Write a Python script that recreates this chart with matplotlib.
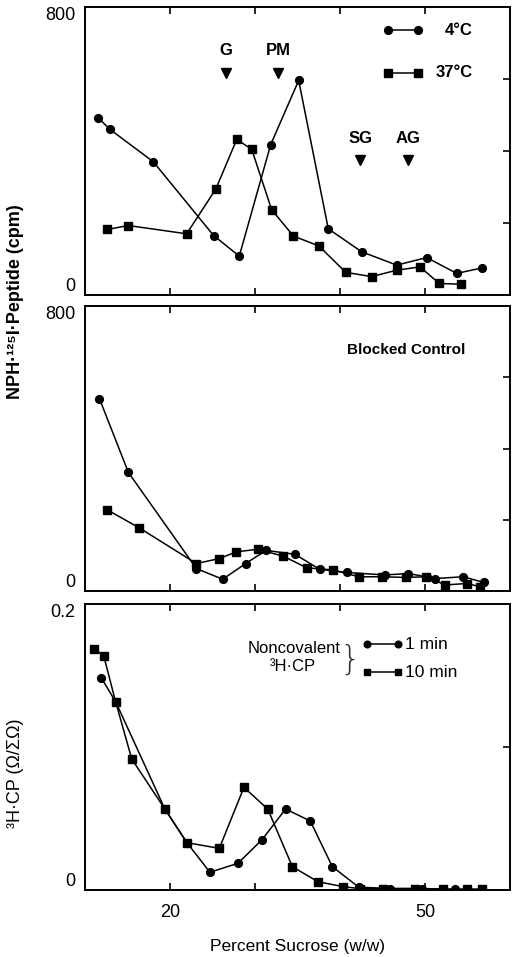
import matplotlib
matplotlib.use("Agg")
import matplotlib.pyplot as plt

FONT = ['Liberation Sans', 'DejaVu Sans']
plt.rcParams['font.family'] = FONT

# ---------------- data ----------------
p1_c4_x = [11.56, 12.94, 18.04, 25.14, 28.15, 31.85, 35.14, 38.62, 42.55, 46.67, 50.2, 53.73, 56.67]
p1_c4_y = [492, 460, 370, 165, 108, 418, 596, 184, 120, 83, 104, 60, 75]
p1_c37_x = [12.62, 15.09, 21.96, 25.38, 27.85, 29.61, 31.96, 34.51, 37.53, 40.67, 43.73, 46.67, 49.41, 51.68, 54.24]
p1_c37_y = [182, 193, 170, 294, 432, 405, 237, 164, 136, 63, 51, 69, 78, 32, 30]

p2_c4_x = [11.7, 15.1, 23.1, 26.2, 28.9, 31.3, 34.7, 37.6, 40.8, 45.3, 48.0, 50.2, 51.2, 54.5, 56.9]
p2_c4_y = [540, 333, 63, 33, 77, 114, 103, 61, 52, 45, 49, 40, 35, 40, 24]
p2_c37_x = [12.6, 16.4, 23.1, 25.8, 27.8, 30.3, 33.3, 36.1, 39.2, 42.2, 44.9, 47.8, 50.1, 52.4, 54.9, 56.5]
p2_c37_y = [228, 177, 77, 91, 110, 117, 98, 65, 59, 40, 40, 38, 40, 17, 21, 12]

p3_1min_x = [11.9, 13.6, 19.4, 22.0, 24.7, 28.0, 30.8, 33.6, 36.5, 39.1, 42.2, 45.9, 49.6, 53.5, 56.7]
p3_1min_y = [0.1485, 0.1317, 0.0566, 0.033, 0.0124, 0.0187, 0.035, 0.0566, 0.0483, 0.0163, 0.002, 0.001, 0.001, 0.0005, 0.0005]
p3_10min_x = [11.1, 12.2, 13.6, 15.5, 19.4, 22.0, 25.8, 28.7, 31.5, 34.4, 37.4, 40.4, 42.3, 45.1, 48.8, 52.1, 54.9, 56.7]
p3_10min_y = [0.1685, 0.1638, 0.1317, 0.0916, 0.0566, 0.0331, 0.0291, 0.0718, 0.0566, 0.0163, 0.0058, 0.0023, 0.001,
              0.001, 0.001, 0.0005, 0.0005, 0.0005]

markers_p1 = {"G": (26.6, 616), "PM": (32.7, 616), "SG": (42.4, 374), "AG": (48.0, 374)}

xticks = [20, 30, 40, 50]
xtick_labels = ["20", "", "", "50"]

W, H = 512, 957
fig = plt.figure(figsize=(W / 100, H / 100), dpi=100)


def axes_px(left, top, right, bottom):
    return fig.add_axes([left / W, 1 - bottom / H, (right - left) / W, (bottom - top) / H])


ax1 = axes_px(85, 7, 510, 295)
ax2 = axes_px(85, 306, 510, 591)
ax3 = axes_px(85, 604, 510, 890)

LW = 1.1
MS = 5.6
kw_c = dict(color='black', lw=LW, marker='o', ms=MS, mfc='black', mec='black')
kw_s = dict(color='black', lw=LW, marker='s', ms=MS - 0.3, mfc='black', mec='black')


def style(ax, ymax, minor, toplabel):
    ax.set_xlim(10, 60)
    ax.set_ylim(0, ymax)
    for s in ax.spines.values():
        s.set_linewidth(1.4)
    ax.set_xticks(xticks)
    ax.tick_params(axis='x', direction='in', top=True, bottom=True, length=5, width=1.2,
                   labelbottom=False, labelsize=13)
    ax.set_yticks([0, ymax])
    ax.set_yticklabels(["0", toplabel])
    ax.tick_params(axis='y', which='major', length=0, pad=7, labelsize=13)
    labs = ax.get_yticklabels()
    labs[0].set_va('bottom')
    labs[1].set_va('top')
    ax.set_yticks(minor, minor=True)
    ax.tick_params(axis='y', which='minor', direction='in', left=False, right=True, length=5, width=1.2)


# panel 1
ax1.plot(p1_c4_x, p1_c4_y, **kw_c)
ax1.plot(p1_c37_x, p1_c37_y, **kw_s)
style(ax1, 800, [200, 400, 600], "800")
for name, (mx, my) in markers_p1.items():
    ax1.plot([mx], [my], marker='v', color='black', ms=6.5, ls='none')
    ax1.text(mx, my + 62, name, ha='center', va='center', fontsize=12, fontweight='bold')
# legend panel 1
ax1.plot([0.713, 0.784], [0.920, 0.920], transform=ax1.transAxes, **kw_c)
ax1.plot([0.713, 0.784], [0.771, 0.771], transform=ax1.transAxes, **kw_s)
ax1.text(0.913, 0.920, "4°C", transform=ax1.transAxes, ha='right', va='center', fontsize=12, fontweight='bold')
ax1.text(0.913, 0.771, "37°C", transform=ax1.transAxes, ha='right', va='center', fontsize=12, fontweight='bold')

# panel 2
ax2.plot(p2_c4_x, p2_c4_y, **kw_c)
ax2.plot(p2_c37_x, p2_c37_y, **kw_s)
style(ax2, 800, [200, 400, 600], "800")
ax2.text(0.616, 0.846, "Blocked Control", transform=ax2.transAxes, ha='left', va='center',
         fontsize=11, fontweight='bold')

# panel 3
ax3.plot(p3_1min_x, p3_1min_y, **kw_c)
ax3.plot(p3_10min_x, p3_10min_y, **kw_s)
style(ax3, 0.2, [0.1], "0.2")
ax3.tick_params(axis='x', labelbottom=True, pad=10)
ax3.set_xticklabels(xtick_labels)
ax3.text(0.602, 0.846, "Noncovalent", transform=ax3.transAxes, ha='right', va='center', fontsize=12)
ax3.text(0.489, 0.783, "³H·CP", transform=ax3.transAxes, ha='center', va='center', fontsize=12)
ax3.text(0.624, 0.805, "}", transform=ax3.transAxes, ha='center', va='center', fontsize=24,
         family='DejaVu Sans', fontweight='light', color='#333333')
ax3.plot([0.664, 0.736], [0.860, 0.860], transform=ax3.transAxes, color='black', lw=LW,
         marker='o', ms=4.8)
ax3.plot([0.664, 0.736], [0.762, 0.762], transform=ax3.transAxes, color='black', lw=LW,
         marker='s', ms=4.5)
ax3.text(0.753, 0.860, "1 min", transform=ax3.transAxes, ha='left', va='center', fontsize=12.5)
ax3.text(0.753, 0.762, "10 min", transform=ax3.transAxes, ha='left', va='center', fontsize=12.5)

# axis labels
fig.text(16 / W, 1 - 302 / H, "NPH·¹²⁵I·Peptide (cpm)", rotation=90, ha='center', va='center',
         fontsize=13, fontweight='bold')
fig.text(16 / W, 1 - 773 / H, "³H·CP (Ω/ΣΩ)", rotation=90, ha='center', va='center', fontsize=13)
fig.text(297 / W, 1 - 946 / H, "Percent Sucrose (w/w)", ha='center', va='center', fontsize=12.5)

fig.savefig("out.png", dpi=100)
